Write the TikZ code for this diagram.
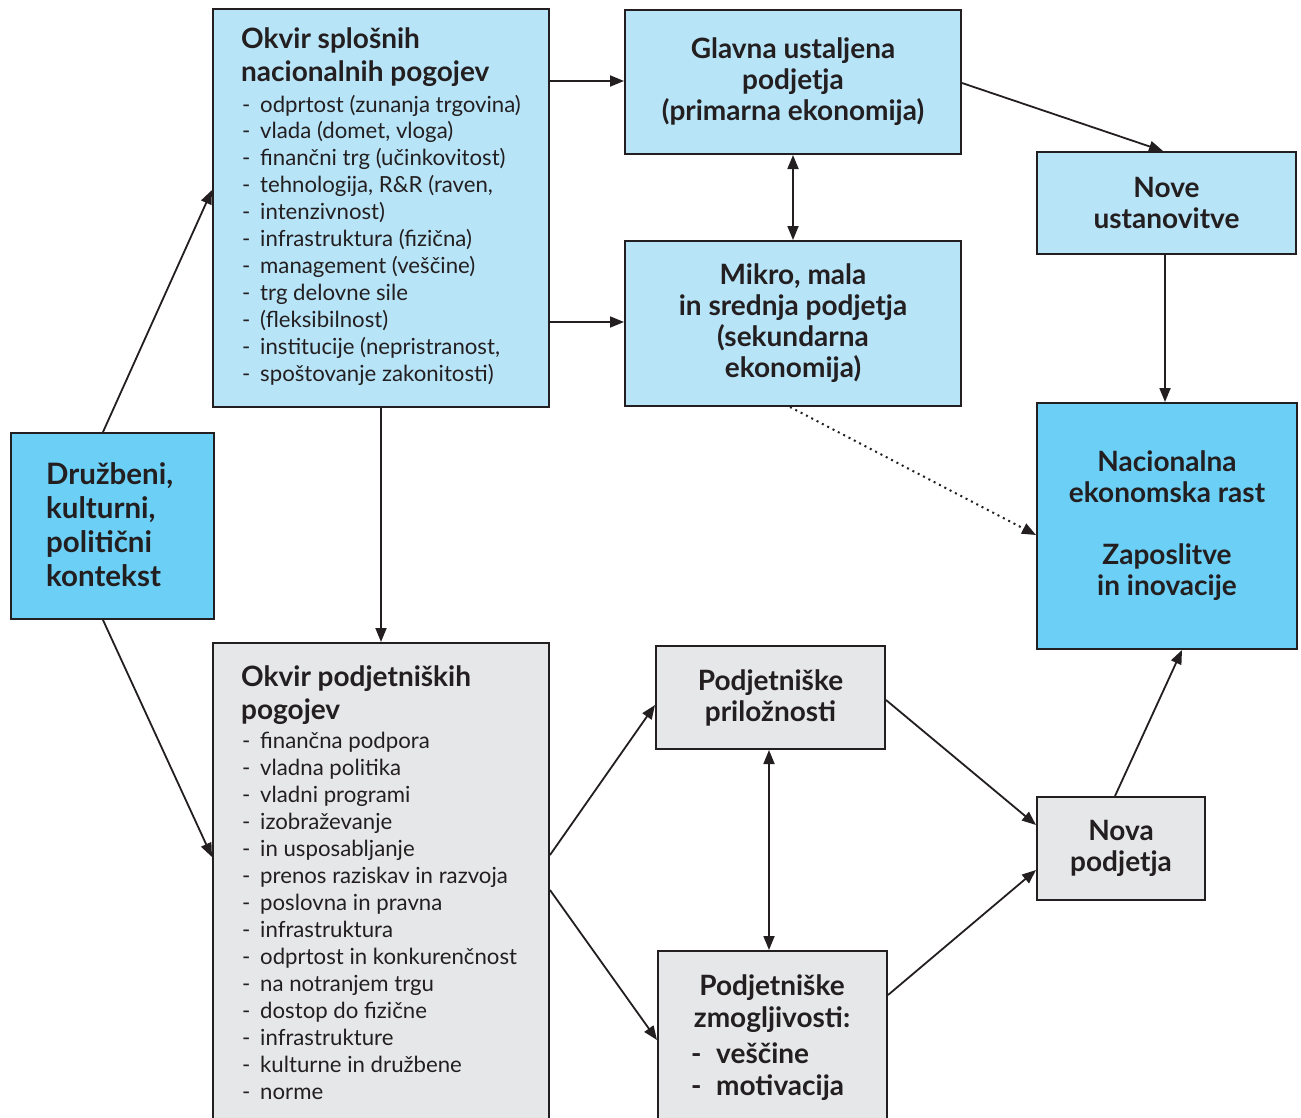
\documentclass[tikz,border=0pt]{standalone}
\usepackage{fontspec}
\setmainfont{Lato}
\usetikzlibrary{arrows.meta,calc}
\definecolor{lb}{HTML}{B8E4F8}
\definecolor{db}{HTML}{6CCFF6}
\definecolor{gr}{HTML}{E6E7E8}
\definecolor{bd}{HTML}{231F20}
\tikzset{
  box/.style={draw=bd, line width=2pt, inner sep=0pt, anchor=north west},
  arr/.style={draw=bd, line width=1.8pt, -{Triangle[length=14pt,width=11pt]}},
  darr/.style={draw=bd, line width=1.8pt, {Triangle[length=14pt,width=11pt]}-{Triangle[length=14pt,width=11pt]}},
  dotarr/.style={draw=bd, line width=2pt, dash pattern=on 2pt off 4pt, -{Triangle[length=14pt,width=11pt]}},
  ttl/.style={font=\fontsize{28}{31}\selectfont\bfseries, text=bd, inner sep=0pt},
  bigttl/.style={font=\fontsize{29.5}{34}\selectfont\bfseries, text=bd, inner sep=0pt, anchor=base west},
  itm/.style={font=\fontsize{22.2}{27}\selectfont, text=bd, inner sep=0pt, anchor=base west},
}
\newcommand{\dsh}[1]{\makebox[18pt][l]{-}#1}
\begin{document}
\begin{tikzpicture}[x=1pt,y=-1pt]
\useasboundingbox (0,0) rectangle (1301,1117);
% boxes
\node[box, fill=lb, minimum width=336pt, minimum height=398pt] (A) at (212,8) {};
\node[box, fill=lb, minimum width=336pt, minimum height=144pt, ttl, align=center] (B) at (624,9) {Glavna ustaljena\\podjetja\\(primarna ekonomija)};
\node[box, fill=lb, minimum width=336pt, minimum height=165pt, ttl, align=center] (C) at (624,240) {Mikro, mala\\in srednja podjetja\\(sekundarna\\ekonomija)};
\node[box, fill=lb, minimum width=259pt, minimum height=102pt, ttl, align=center] (D) at (1036,151) {Nove\\ustanovitve};
\node[box, fill=db, minimum width=260pt, minimum height=246pt, ttl, align=center] (E) at (1036,402) {Nacionalna\\ekonomska rast\\[31pt]Zaposlitve\\in inovacije};
\node[box, fill=db, minimum width=203pt, minimum height=186pt] (F) at (10,432) {};
\node[box, fill=gr, minimum width=336pt, minimum height=490pt] (G) at (212,642) {};
\node[box, fill=gr, minimum width=229pt, minimum height=103pt, ttl, align=center] (H) at (655,645) {Podjetniške\\priložnosti};
\node[box, fill=gr, minimum width=229pt, minimum height=180pt] (I) at (657,950) {};
\node[box, fill=gr, minimum width=168pt, minimum height=103pt, ttl, align=center] (J) at (1036,796) {Nova\\podjetja};
% texts of A
\node[ttl, anchor=base west] (at1) at (241,48) {Okvir splošnih};
\node[ttl, anchor=base west] (at2) at (241,81) {nacionalnih pogojev};
\foreach \t [count=\i] in {{odprtost (zunanja trgovina)},{vlada (domet, vloga)},{finančni trg (učinkovitost)},{tehnologija, R\&R (raven,},{intenzivnost)},{infrastruktura (fizična)},{management (veščine)},{trg delovne sile},{(fleksibilnost)},{institucije (nepristranost,},{spoštovanje zakonitosti)}}
  \node[itm] (a\i) at (242,{112+26.9*(\i-1)}) {\dsh{\t}};
% texts of G
\node[ttl, anchor=base west] (gt1) at (241,686) {Okvir podjetniških};
\node[ttl, anchor=base west] (gt2) at (241,719) {pogojev};
\foreach \t [count=\i] in {{finančna podpora},{vladna politika},{vladni programi},{izobraževanje},{in usposabljanje},{prenos raziskav in razvoja},{poslovna in pravna},{infrastruktura},{odprtost in konkurenčnost},{na notranjem trgu},{dostop do fizične},{infrastrukture},{kulturne in družbene},{norme}}
  \node[itm] (g\i) at (242,{748+27*(\i-1)}) {\dsh{\t}};
% texts of F
\foreach \t [count=\i] in {{Družbeni,},{kulturni,},{politični},{kontekst}}
  \node[bigttl] (f\i) at (46,{484+34.2*(\i-1)}) {\t};
% texts of I
\node[ttl, anchor=base] (it1) at (772,995) {Podjetniške};
\node[ttl, anchor=base] (it2) at (772,1027) {zmogljivosti:};
\node[ttl, anchor=base west] (it3) at (691,1063) {\makebox[25pt][l]{-}veščine};
\node[ttl, anchor=base west] (it4) at (691,1095) {\makebox[25pt][l]{-}motivacija};
% connectors
\draw[arr] ($(F.north west)+(93,0)$) -- ($(A.north west)+(0,182)$);
\draw[arr] ($(F.south west)+(93,0)$) -- ($(G.north west)+(0,215)$);
\draw[arr] ($(A.north east)+(0,73)$) -- ($(B.north west)+(0,72)$);
\draw[arr] ($(A.north east)+(0,314)$) -- ($(C.north west)+(0,82)$);
\draw[darr] (B.south) -- (C.north);
\draw[arr] ($(B.north east)+(0,74)$) -- ($(D.north west)+(127,0)$);
\draw[arr] ($(D.south west)+(129,0)$) -- ($(E.north west)+(129,0)$);
\draw[dotarr] ($(C.south west)+(166,0)$) -- ($(E.north west)+(0,133)$);
\draw[arr] (A.south) -- (G.north);
\draw[arr] ($(G.north east)+(0,213)$) -- ($(H.north west)+(0,60)$);
\draw[arr] ($(G.north east)+(0,248)$) -- ($(I.north west)+(0,90)$);
\draw[darr] ($(H.south west)+(114,0)$) -- ($(I.north west)+(112,0)$);
\draw[arr] ($(H.north east)+(0,55)$) -- ($(J.north west)+(0,29)$);
\draw[arr] ($(I.north east)+(0,45)$) -- ($(J.north west)+(0,74)$);
\draw[arr] ($(J.north west)+(79,0)$) -- ($(E.south west)+(146,0)$);
\end{tikzpicture}
\end{document}
